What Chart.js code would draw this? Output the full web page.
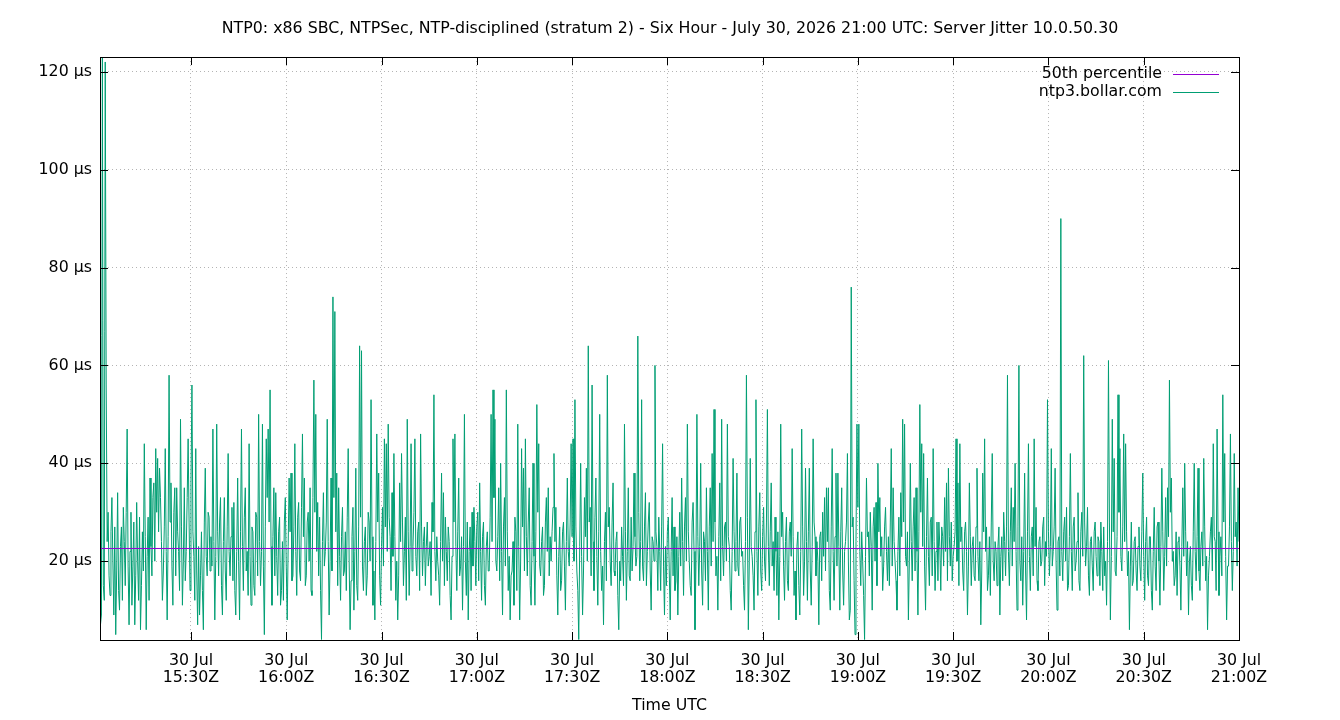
<!DOCTYPE html>
<html>
<head>
<meta charset="utf-8">
<title>Server Jitter 10.0.50.30</title>
<script src="https://cdn.jsdelivr.net/npm/chart.js@4.4.1/dist/chart.umd.min.js"></script>
<style>
    html, body { margin: 0; padding: 0; background: #fff; }
    #wrap { width: 1340px; height: 720px; }
</style>
</head>
<body>
<div id="wrap"><canvas id="jitter"></canvas></div>
<script>
// 标题与图例
const chartTitle = 'NTP0: x86 SBC, NTPSec, NTP-disciplined (stratum 2) - Six Hour - July 30, 2026 21:00 UTC: Server Jitter 10.0.50.30';
const seriesLabels = ['50th percentile', 'ntp3.bollar.com'];
const seriesColors = ['#9400d3', '#009e73'];
const xTitle = 'Time UTC';

// 中位数 (µs)
const medianJitter = 22.6;

// 采样时间: 15:00Z 之后的分钟数, 每 18 秒一个点
const sampleStart = 0.3;
const sampleStep = 0.3;

// 抖动值 (µs), 按半小时左右分段读取
const jitter1 = [28, 16, 38, 22, 7, 9, 124, 15, 12, 122, 56, 24, 30, 17, 13, 26, 33, 20, 9, 27,
    5, 18, 34, 14, 10, 23, 27, 12, 31, 24, 15, 30, 47, 19, 7, 22, 30, 11, 19, 28,
    7, 17, 32, 20, 12, 29, 6, 15, 26, 18, 44, 25, 6, 21, 29, 12, 37, 23, 17, 33,
    36, 20, 43, 30, 41, 26, 39, 33, 24, 12, 18, 27, 43, 22, 8, 25, 58, 28, 36, 19,
    11, 30, 35, 17, 35, 26, 22, 14, 49, 27, 11, 20, 35, 16, 22, 33, 45, 28, 14, 36,
    56, 26, 21, 12, 43, 18, 7, 23, 9, 17, 26, 14, 6, 28, 39, 21, 17, 30, 29, 18];
const jitter2 = [25, 19, 47, 24, 8, 21, 48, 26, 17, 28, 33, 15, 9, 24, 33, 18, 12, 27, 42, 22,
    17, 25, 31, 16, 32, 14, 9, 22, 37, 20, 8, 26, 47, 23, 14, 29, 35, 18, 22, 13,
    44, 21, 11, 27, 26, 15, 13, 30, 29, 17, 50, 24, 15, 22, 48, 19, 5, 27, 45, 33,
    47, 28, 55, 23, 11, 25, 35, 17, 34, 21, 13, 26, 29, 11, 14, 24, 12, 28, 33, 19,
    8, 23, 37, 26, 38, 16, 17, 27, 44, 22, 13, 29, 32, 18, 16, 31, 46, 25, 37, 15,
    17, 28, 30, 20, 35, 14, 13, 33, 57, 30, 50, 22, 32, 17, 29, 14, 4, 24, 34, 19];
const jitter3 = [22, 28, 49, 24, 9, 20, 37, 18, 74, 33, 71, 26, 38, 15, 35, 21, 12, 25, 31, 17,
    18, 26, 14, 29, 43, 20, 6, 16, 25, 31, 10, 22, 39, 15, 12, 27, 64, 29, 63, 19,
    14, 24, 27, 13, 17, 30, 28, 20, 53, 25, 11, 18, 8, 24, 46, 28, 38, 17, 11, 23,
    31, 19, 45, 27, 44, 22, 48, 29, 25, 14, 34, 21, 42, 25, 12, 20, 8, 17, 36, 24,
    42, 28, 15, 22, 29, 12, 49, 26, 13, 23, 44, 18, 23, 30, 45, 21, 17, 26, 28, 14,
    46, 27, 17, 24, 27, 15, 23, 28, 19, 21, 24, 13, 32, 26, 54, 22, 16, 25, 20, 17];
const jitter4 = [11, 24, 38, 20, 34, 15, 29, 22, 16, 27, 24, 13, 8, 21, 45, 28, 46, 23, 14, 26,
    37, 17, 19, 25, 10, 23, 50, 20, 13, 28, 8, 22, 27, 14, 30, 19, 31, 24, 15, 27,
    30, 16, 36, 22, 12, 25, 28, 15, 11, 23, 26, 18, 18, 29, 50, 24, 55, 33, 49, 20,
    18, 25, 35, 16, 40, 22, 9, 27, 33, 19, 55, 26, 14, 21, 8, 17, 18, 24, 11, 29,
    26, 14, 48, 23, 8, 20, 43, 27, 39, 18, 45, 25, 17, 28, 35, 15, 11, 24, 40, 21,
    11, 26, 52, 30, 44, 19, 17, 24, 27, 13, 15, 28, 33, 22, 35, 17, 25, 20, 26, 31];
const jitter5 = [42, 24, 31, 17, 9, 21, 27, 14, 16, 26, 28, 19, 10, 24, 37, 22, 19, 28, 44, 25,
    45, 20, 53, 27, 18, 14, 4, 23, 40, 21, 9, 18, 33, 25, 39, 20, 64, 28, 31, 17,
    56, 24, 14, 29, 37, 21, 11, 26, 50, 22, 14, 19, 7, 24, 30, 16, 58, 27, 31, 20,
    15, 28, 36, 18, 17, 24, 26, 13, 6, 20, 16, 27, 21, 15, 48, 26, 12, 22, 35, 17,
    16, 29, 18, 23, 38, 25, 19, 21, 66, 30, 16, 24, 53, 19, 16, 27, 34, 15, 22, 28,
    32, 18, 10, 25, 24, 20, 60, 26, 23, 14, 29, 22, 14, 27, 44, 19, 9, 23, 15, 26];
const jitter6 = [29, 18, 8, 22, 33, 17, 27, 14, 16, 25, 9, 21, 30, 19, 37, 24, 13, 27, 33, 20,
    48, 26, 20, 15, 13, 28, 32, 22, 6, 19, 50, 25, 15, 23, 40, 18, 11, 26, 24, 16,
    35, 22, 10, 27, 35, 19, 42, 24, 51, 28, 17, 21, 10, 25, 36, 16, 49, 23, 17, 27,
    28, 20, 48, 25, 23, 14, 10, 22, 41, 26, 18, 24, 38, 19, 17, 28, 29, 21, 22, 15,
    10, 24, 58, 29, 6, 20, 41, 23, 21, 17, 10, 26, 53, 22, 13, 27, 34, 18, 14, 25,
    31, 20, 16, 28, 51, 23, 15, 26, 36, 19, 24, 14, 29, 22, 13, 26, 8, 21, 48, 25];
const jitter7 = [30, 19, 12, 24, 29, 16, 14, 26, 28, 21, 43, 25, 13, 18, 8, 23, 26, 15, 9, 22,
    47, 27, 13, 20, 39, 24, 12, 26, 39, 18, 11, 23, 45, 28, 25, 17, 24, 20, 7, 25,
    26, 16, 30, 21, 33, 18, 35, 24, 35, 14, 10, 27, 43, 22, 12, 25, 38, 19, 38, 23,
    10, 26, 35, 18, 11, 22, 24, 28, 42, 20, 8, 10, 76, 27, 29, 16, 5, 24, 48, 31,
    48, 22, 15, 26, 20, 13, 4, 21, 37, 25, 26, 17, 30, 23, 10, 27, 31, 20, 32, 15,
    40, 26, 33, 21, 25, 14, 19, 27, 31, 22, 16, 25, 15, 28, 43, 19, 35, 24, 20, 16];
const jitter8 = [10, 22, 29, 17, 34, 25, 49, 28, 48, 21, 19, 26, 8, 20, 40, 24, 16, 27, 33, 18,
    35, 22, 9, 26, 52, 30, 44, 23, 42, 19, 10, 25, 37, 21, 15, 28, 29, 17, 43, 24,
    14, 22, 28, 16, 28, 23, 14, 27, 25, 19, 33, 22, 36, 16, 39, 25, 19, 28, 16, 21,
    23, 26, 45, 20, 36, 15, 44, 24, 27, 18, 14, 26, 28, 22, 9, 19, 36, 25, 15, 23,
    25, 17, 16, 27, 39, 21, 16, 24, 7, 18, 38, 26, 45, 22, 27, 14, 17, 25, 13, 28,
    42, 20, 16, 24, 22, 15, 23, 27, 9, 21, 25, 16, 30, 24, 17, 27, 58, 22, 15, 26];
const jitter9 = [35, 19, 31, 24, 40, 22, 10, 27, 60, 20, 16, 25, 11, 22, 38, 18, 8, 26, 44, 21,
    14, 25, 27, 17, 45, 23, 31, 16, 14, 24, 25, 19, 20, 27, 29, 15, 24, 21, 53, 26,
    17, 23, 43, 19, 22, 27, 39, 20, 10, 24, 25, 17, 90, 22, 16, 26, 29, 20, 31, 14,
    15, 25, 42, 22, 14, 27, 29, 18, 20, 24, 34, 16, 14, 26, 30, 21, 62, 28, 19, 23,
    31, 17, 13, 24, 25, 19, 14, 26, 28, 21, 17, 25, 24, 15, 28, 22, 14, 27, 17, 20,
    11, 24, 61, 28, 8, 21, 49, 26, 41, 18, 17, 25, 54, 30, 43, 21, 18, 27, 46, 24];
const jitter10 = [44, 26, 17, 22, 6, 19, 28, 15, 16, 24, 25, 18, 14, 23, 27, 19, 16, 26, 38, 21,
    12, 24, 29, 17, 15, 25, 25, 14, 10, 22, 31, 19, 14, 27, 28, 20, 11, 23, 39, 26,
    14, 21, 33, 19, 35, 25, 57, 30, 37, 20, 22, 15, 17, 26, 13, 24, 25, 19, 10, 23,
    35, 21, 40, 26, 17, 24, 9, 20, 23, 15, 12, 26, 40, 22, 16, 25, 39, 18, 14, 23,
    26, 19, 41, 27, 16, 21, 6, 17, 21, 26, 29, 18, 44, 25, 24, 14, 47, 26, 13, 21,
    25, 17, 54, 28, 42, 21, 8, 19, 19, 27, 46, 24, 14, 22, 42, 25, 28, 19, 35, 24];

const jitter = [].concat(jitter1, jitter2, jitter3, jitter4, jitter5,
    jitter6, jitter7, jitter8, jitter9, jitter10);

// 刻度
const xMinMinute = 1.35;
const xMaxMinute = 360;
const tickMinutes = [30, 60, 90, 120, 150, 180, 210, 240, 270, 300, 330, 360];
const tickTimes = ['15:30Z', '16:00Z', '16:30Z', '17:00Z', '17:30Z', '18:00Z',
    '18:30Z', '19:00Z', '19:30Z', '20:00Z', '20:30Z', '21:00Z'];
const tickDate = '30 Jul';
const yTicks = [20, 40, 60, 80, 100, 120];
const yMin = 3.9;
const yMax = 123;

const FONT = "'DejaVu Sans', sans-serif";
Chart.defaults.font.family = FONT;
Chart.defaults.font.size = 15.8;
Chart.defaults.color = '#000';

// gnuplot 风格: 黑色边框, 向内刻度, 右上角图例
const gnuplotFrame = {
    id: 'gnuplotFrame',
    afterDatasetsDraw(chart) {
        const { ctx, chartArea: a, scales } = chart;
        const tl = 8;
        ctx.save();
        ctx.strokeStyle = '#000';
        ctx.lineWidth = 1;
        ctx.beginPath();
        tickMinutes.forEach(m => {
            const x = Math.round(scales.x.getPixelForValue(m)) + 0.5;
            ctx.moveTo(x, a.bottom); ctx.lineTo(x, a.bottom - tl);
            ctx.moveTo(x, a.top); ctx.lineTo(x, a.top + tl);
        });
        yTicks.forEach(v => {
            const y = Math.round(scales.y.getPixelForValue(v)) + 0.5;
            ctx.moveTo(a.left, y); ctx.lineTo(a.left + tl, y);
            ctx.moveTo(a.right, y); ctx.lineTo(a.right - tl, y);
        });
        ctx.stroke();
        ctx.strokeRect(Math.round(a.left) + 0.5, Math.round(a.top) + 0.5,
            Math.round(a.right - a.left), Math.round(a.bottom - a.top));

        // 图例
        ctx.font = '15.8px ' + FONT;
        ctx.textAlign = 'right';
        ctx.textBaseline = 'middle';
        chart.data.datasets.forEach((ds, i) => {
            const y = a.top + 17 + i * 18;
            ctx.fillStyle = '#000';
            ctx.fillText(ds.label, a.right - 77, y);
            ctx.strokeStyle = ds.borderColor;
            ctx.beginPath();
            ctx.moveTo(a.right - 66, Math.round(y) + 0.5);
            ctx.lineTo(a.right - 20, Math.round(y) + 0.5);
            ctx.stroke();
        });
        ctx.restore();
    }
};

function createJitterChart() {
    const ctx = document.getElementById('jitter').getContext('2d');
    const points = jitter.map((v, i) => ({ x: sampleStart + i * sampleStep, y: v }));

    return new Chart(ctx, {
        type: 'line',
        data: {
            datasets: [
                {
                    label: seriesLabels[0],
                    data: [{ x: xMinMinute, y: medianJitter }, { x: xMaxMinute, y: medianJitter }],
                    borderColor: seriesColors[0],
                    borderWidth: 1,
                    pointRadius: 0
                },
                {
                    label: seriesLabels[1],
                    data: points,
                    borderColor: seriesColors[1],
                    borderWidth: 1,
                    pointRadius: 0,
                    tension: 0
                }
            ]
        },
        options: {
            responsive: true,
            maintainAspectRatio: false,
            animation: false,
            layout: { padding: 0 },
            plugins: {
                legend: { display: false },
                tooltip: { enabled: false },
                title: {
                    display: true,
                    text: chartTitle,
                    color: '#000',
                    font: { size: 15.8, weight: 'normal' },
                    padding: { top: 19.6, bottom: 18.5 }
                }
            },
            scales: {
                x: {
                    type: 'linear',
                    min: xMinMinute,
                    max: xMaxMinute,
                    afterBuildTicks: s => { s.ticks = tickMinutes.map(v => ({ value: v })); },
                    afterFit: s => { s.height = 80; },
                    grid: { color: '#b4b4b4', lineWidth: 1, drawTicks: false },
                    border: { display: false, dash: [1, 3] },
                    ticks: {
                        autoSkip: false,
                        maxRotation: 0,
                        padding: 12,
                        font: { lineHeight: '17px' },
                        callback: v => [tickDate, tickTimes[tickMinutes.indexOf(v)]]
                    },
                    title: {
                        display: true,
                        text: xTitle,
                        padding: { top: 0, bottom: 5 }
                    }
                },
                y: {
                    min: yMin,
                    max: yMax,
                    afterBuildTicks: s => { s.ticks = yTicks.map(v => ({ value: v })); },
                    afterFit: s => { s.width = 100; },
                    grid: { color: '#b4b4b4', lineWidth: 1, drawTicks: false },
                    border: { display: false, dash: [1, 3] },
                    ticks: {
                        padding: 8,
                        callback: v => v + ' µs'
                    }
                },
                // 右侧留白, 让标题在整张图上居中
                yRight: {
                    position: 'right',
                    min: yMin,
                    max: yMax,
                    afterFit: s => { s.width = 101; },
                    grid: { drawOnChartArea: false, drawTicks: false },
                    border: { display: false },
                    ticks: { display: false }
                }
            }
        },
        plugins: [gnuplotFrame]
    });
}

document.addEventListener('DOMContentLoaded', createJitterChart);
</script>
</body>
</html>
